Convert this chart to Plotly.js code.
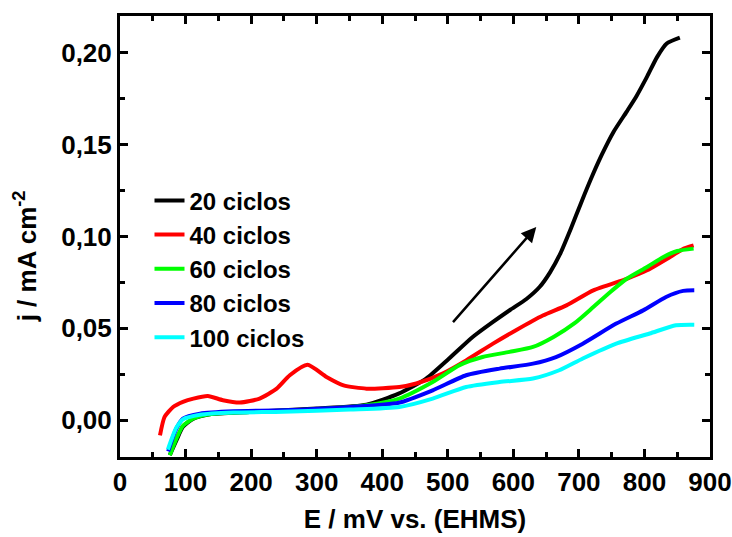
<!DOCTYPE html>
<html>
<head>
<meta charset="utf-8">
<script src="https://cdn.plot.ly/plotly-3.0.1.min.js"></script>
<style>html,body{margin:0;padding:0;background:#fff;}#chart{width:732px;height:537px;}</style>
</head>
<body>
<div id="chart"></div>
<script>
// Series names and colours
var seriesNames = ["20 ciclos", "40 ciclos", "60 ciclos", "80 ciclos", "100 ciclos"];
var seriesColors = ["#000000", "#FF0000", "#00FF00", "#0000FF", "#00FFFF"];

// 20 ciclos
var x20 = [76, 86, 96, 112, 137, 198, 300, 376, 425, 467, 502, 538, 569, 595, 620, 640, 656, 672, 688, 703, 718, 735, 753, 773, 788, 804, 819, 834, 854];
var y20 = [-0.019, -0.011, -0.0036, 0.0009, 0.0033, 0.0045, 0.0064, 0.0085, 0.0145, 0.0227, 0.0336, 0.0453, 0.0535, 0.060, 0.066, 0.0725, 0.0805, 0.091, 0.1045, 0.118, 0.131, 0.1445, 0.157, 0.168, 0.1765, 0.187, 0.1975, 0.205, 0.2082];

// 40 ciclos
var x40 = [61, 68, 81, 96, 112, 134, 157, 183, 213, 239, 259, 286, 315, 341, 376, 426, 452, 492, 528, 569, 604, 645, 681, 722, 773, 804, 839, 860, 875];
var y40 = [-0.0082, 0.0018, 0.0072, 0.0100, 0.0118, 0.0132, 0.0109, 0.0096, 0.0118, 0.0172, 0.0245, 0.0302, 0.0236, 0.019, 0.0172, 0.0181, 0.020, 0.0254, 0.0326, 0.0417, 0.049, 0.057, 0.0625, 0.0707, 0.077, 0.0816, 0.0888, 0.0934, 0.0952];

// 60 ciclos
var x60 = [76, 86, 96, 112, 137, 198, 300, 376, 426, 477, 518, 553, 594, 630, 662, 694, 722, 748, 773, 804, 829, 850, 875];
var y60 = [-0.019, -0.010, -0.003, 0.001, 0.0033, 0.0045, 0.006, 0.0082, 0.0118, 0.0208, 0.030, 0.0344, 0.0372, 0.0399, 0.0455, 0.0530, 0.0616, 0.0698, 0.077, 0.0834, 0.0889, 0.0921, 0.0934];

// 80 ciclos
var x80 = [73.5, 80, 86, 96, 122, 173, 249, 351, 425, 477, 528, 579, 630, 665, 706, 757, 798, 833, 859, 876];
var y80 = [-0.017, -0.010, -0.0045, 0.0009, 0.0036, 0.0049, 0.0054, 0.0072, 0.0095, 0.0163, 0.0245, 0.0281, 0.0308, 0.0344, 0.0417, 0.0526, 0.0598, 0.0671, 0.0704, 0.0707];

// 100 ciclos
var x100 = [73, 80, 86, 96, 122, 173, 249, 351, 426, 477, 528, 579, 630, 670, 706, 757, 808, 848, 876];
var y100 = [-0.016, -0.009, -0.004, 0.0005, 0.003, 0.0042, 0.0046, 0.0058, 0.0072, 0.0118, 0.0181, 0.0208, 0.0227, 0.0272, 0.0336, 0.0417, 0.0472, 0.0517, 0.052];

// Arrow (data coordinates): tail -> head
var arrowTail = [506, 0.0526];
var arrowHead = [635, 0.1052];

var xs = [x20, x40, x60, x80, x100];
var ys = [y20, y40, y60, y80, y100];

var FONT = "Arial, 'Liberation Sans', sans-serif";

var traces = seriesNames.map(function (n, i) {
  return {
    x: xs[i], y: ys[i], name: n, type: "scatter", mode: "lines",
    line: {color: seriesColors[i], width: 4, shape: "spline", smoothing: 0.6},
    cliponaxis: true
  };
});

var axisCommon = {
  showline: true, linecolor: "#000", linewidth: 3, mirror: "allticks",
  ticks: "inside", ticklen: 8, tickwidth: 3, tickcolor: "#000",
  showgrid: false, zeroline: false,
  tickfont: {family: FONT, size: 26, color: "#000", weight: "bold"}
};

var layout = {
  width: 732, height: 537,
  margin: {l: 120, r: 22, t: 16, b: 80},
  paper_bgcolor: "#fff", plot_bgcolor: "#fff",
  separators: ",.",
  font: {family: FONT, color: "#000"},
  xaxis: Object.assign({}, axisCommon, {
    range: [0, 900], dtick: 100, tick0: 0,
    minor: {dtick: 50, ticks: "inside", ticklen: 5, tickwidth: 3, tickcolor: "#000"},
    title: {text: "E / mV vs. (EHMS)", font: {family: FONT, size: 26, color: "#000", weight: "bold"}, standoff: 14}
  }),
  yaxis: Object.assign({}, axisCommon, {
    range: [-0.02, 0.22], dtick: 0.05, tick0: 0, tickformat: ".2f",
    minor: {dtick: 0.025, ticks: "inside", ticklen: 5, tickwidth: 3, tickcolor: "#000"}
  }),
  showlegend: true,
  legend: {
    x: 0.05, y: 0.632, xanchor: "left", yanchor: "top",
    bgcolor: "rgba(0,0,0,0)", borderwidth: 0,
    font: {family: FONT, size: 24, color: "#000", weight: "bold"}
  },
  annotations: [{
    x: arrowHead[0], y: arrowHead[1], xref: "x", yref: "y",
    ax: arrowTail[0], ay: arrowTail[1], axref: "x", ayref: "y",
    text: "", showarrow: true, arrowhead: 2, arrowsize: 1.2, arrowwidth: 2.5, arrowcolor: "#000"
  }, {
    text: "j / mA cm<sup>-2</sup>", textangle: -90,
    xref: "paper", yref: "paper", x: -0.161, y: 0.455,
    xanchor: "center", yanchor: "middle", showarrow: false,
    font: {family: FONT, size: 26, color: "#000", weight: "bold"}
  }]
};

Plotly.newPlot("chart", traces, layout, {staticPlot: true});
</script>
</body>
</html>
